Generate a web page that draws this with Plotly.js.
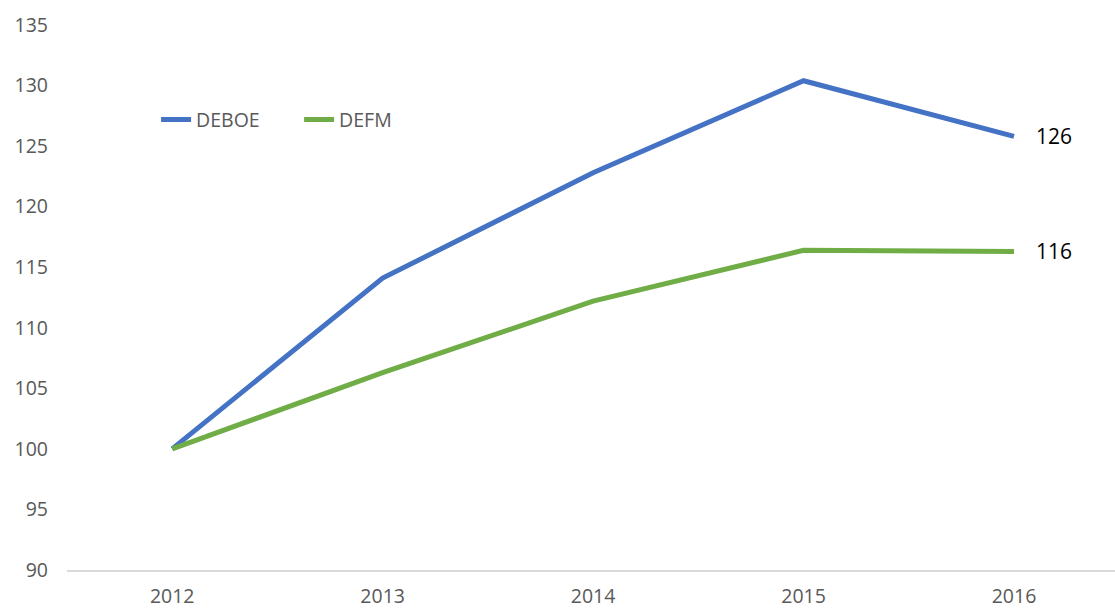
<!DOCTYPE html>
<html>
<head>
<meta charset="utf-8">
<script src="https://cdn.plot.ly/plotly-3.0.1.min.js"></script>
<style>html,body{margin:0;padding:0;background:#fff;}#chart{width:1115px;height:609px;}</style>
</head>
<body>
<div id="chart"></div>
<script>
const years = ['2012', '2013', '2014', '2015', '2016'];
const deboe = [100, 114.1, 122.8, 130.4, 125.8];
const defm = [100, 106.3, 112.2, 116.4, 116.3];
const yTicks = [90, 95, 100, 105, 110, 115, 120, 125, 130, 135];

const font = "'Open Sans', 'Noto Sans', sans-serif";

const traces = [
  {
    x: years, y: deboe, name: 'DEBOE', type: 'scatter', mode: 'lines',
    line: {color: '#4472C4', width: 5}
  },
  {
    x: years, y: defm, name: 'DEFM', type: 'scatter', mode: 'lines',
    line: {color: '#70AD47', width: 5}
  }
];

function endLabel(arr) {
  const i = arr.length - 1;
  return {
    x: i, y: arr[i], xref: 'x', yref: 'y',
    text: String(Math.round(arr[i])), showarrow: false,
    xanchor: 'left', yanchor: 'middle', xshift: 20,
    font: {family: font, size: 21, color: '#000000'}
  };
}

const layout = {
  width: 1115, height: 609,
  margin: {l: 67, r: 0, t: 25, b: 39},
  paper_bgcolor: '#ffffff', plot_bgcolor: '#ffffff',
  showlegend: true,
  legend: {
    orientation: 'h', x: 0.085, y: 0.826, xanchor: 'left', yanchor: 'middle',
    font: {family: font, size: 19.5, color: '#595959'},
    bgcolor: 'rgba(0,0,0,0)', entrywidth: 98, entrywidthmode: 'pixels'
  },
  annotations: [endLabel(deboe), endLabel(defm)],
  xaxis: {
    type: 'category', range: [-0.5, 4.48],
    showgrid: false, zeroline: false,
    showline: true, linecolor: '#d9d9d9', linewidth: 1.5,
    ticks: '', tickfont: {family: font, size: 19.5, color: '#595959'},
    ticklabelstandoff: 8
  },
  yaxis: {
    range: [90, 135], tickvals: yTicks, ticktext: yTicks.map(String),
    showgrid: false, zeroline: false, showline: false,
    ticks: '', tickfont: {family: font, size: 19.5, color: '#595959'},
    ticklabelstandoff: 18
  }
};

Plotly.newPlot('chart', traces, layout, {staticPlot: true, displayModeBar: false});
</script>
</body>
</html>
